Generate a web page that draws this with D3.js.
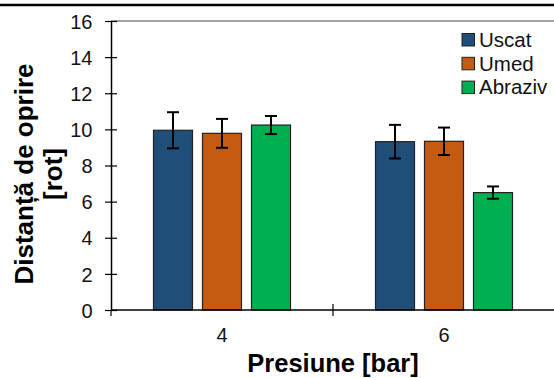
<!DOCTYPE html>
<html>
<head>
<meta charset="utf-8">
<script src="https://cdn.jsdelivr.net/npm/d3@7"></script>
<style>
  body { margin: 0; background: #fff; }
  svg { display: block; font-family: Arial, "Liberation Sans", sans-serif; }
</style>
</head>
<body>
<script>
const categories = ['4', '6'];
const seriesNames = ['Uscat', 'Umed', 'Abraziv'];
const seriesColors = ['#1F4E79', '#C55A11', '#00B050'];
// mean values per series, one per category
const uscat = [9.95, 9.32];
const umed = [9.78, 9.34];
const abraziv = [10.24, 6.5];
// error bar half-widths
const uscatErr = [1.0, 0.93];
const umedErr = [0.8, 0.76];
const abrazivErr = [0.5, 0.34];
const yTicks = [0, 2, 4, 6, 8, 10, 12, 14, 16];

const svgWidth = 554;
const svgHeight = 378;
const margin = { left: 111, right: -1, top: 21, bottom: 68 };
const font = 'Arial, "Liberation Sans", sans-serif';

const svg = d3.select('body').append('svg')
.attr('width', svgWidth)
.attr('height', svgHeight);

// thick line at the top of the figure
svg.append('line')
.attr('x1', 0).attr('x2', svgWidth)
.attr('y1', 5).attr('y2', 5)
.attr('stroke', '#000').attr('stroke-width', 2.5);

const x0 = d3.scaleBand()
.domain(categories)
.range([margin.left, svgWidth - margin.right]);

const x1 = d3.scaleBand()
.domain(seriesNames)
.range([0, 137])
.paddingInner(0.204);

const y = d3.scaleLinear()
.domain([0, 16])
.range([svgHeight - margin.bottom, margin.top]);

const data = [];
const values = [uscat, umed, abraziv];
const errs = [uscatErr, umedErr, abrazivErr];
categories.forEach((c, ci) => {
    seriesNames.forEach((s, si) => {
        data.push({ cat: c, series: s, value: values[si][ci], err: errs[si][ci], color: seriesColors[si] });
    })
})

// plot top border
svg.append('line')
.attr('x1', margin.left).attr('x2', svgWidth)
.attr('y1', y(16)).attr('y2', y(16))
.attr('stroke', '#444').attr('stroke-width', 1);

const groupOffset = (x0.bandwidth() - 137) / 2;

// bars
svg.append('g').selectAll('rect')
.data(data).enter()
.append('rect')
.attr('x', (d) => x0(d.cat) + groupOffset + x1(d.series))
.attr('y', (d) => y(d.value))
.attr('width', x1.bandwidth())
.attr('height', (d) => y(0) - y(d.value))
.attr('fill', (d) => d.color)
.attr('stroke', '#222')
.attr('stroke-width', 1.2);

// error bars
const eb = svg.append('g').attr('stroke', '#000').attr('stroke-width', 2);
data.forEach((d) => {
    const cx = x0(d.cat) + groupOffset + x1(d.series) + x1.bandwidth() / 2;
    eb.append('line').attr('x1', cx).attr('x2', cx)
    .attr('y1', y(d.value + d.err)).attr('y2', y(d.value - d.err));
    [d.value + d.err, d.value - d.err].forEach((v) => {
        eb.append('line').attr('x1', cx - 6).attr('x2', cx + 6)
        .attr('y1', y(v)).attr('y2', y(v));
    })
})

// y axis
const yAxis = svg.append('g')
.attr('transform', `translate(${margin.left},0)`)
.call(d3.axisLeft(y).tickValues(yTicks).tickSizeInner(6).tickSizeOuter(0).tickPadding(12));
yAxis.attr('font-family', font).attr('font-size', 20);
yAxis.select('.domain').attr('stroke', '#000').attr('stroke-width', 1.5);
yAxis.selectAll('.tick line').attr('x2', 6).attr('x1', -6).attr('stroke', '#000').attr('stroke-width', 1.2);
yAxis.selectAll('.tick text').attr('font-size', 20).attr('fill', '#111').attr('x', -18.5).attr('dy', '0.36em');

// x axis
const xAxisG = svg.append('g')
.attr('transform', `translate(0,${y(0)})`);
xAxisG.append('line')
.attr('x1', margin.left).attr('x2', svgWidth)
.attr('stroke', '#000').attr('stroke-width', 1.5);
// tick marks at category boundaries
[margin.left, x0('6')].forEach((px) => {
    xAxisG.append('line')
    .attr('x1', px).attr('x2', px)
    .attr('y1', px === margin.left ? 0 : -6).attr('y2', 6)
    .attr('stroke', '#000').attr('stroke-width', 1.2);
})
xAxisG.selectAll('text.cat')
.data(categories).enter()
.append('text')
.attr('class', 'cat')
.attr('x', (d) => x0(d) + x0.bandwidth() / 2)
.attr('y', 32)
.attr('text-anchor', 'middle')
.attr('font-size', 20)
.attr('fill', '#111')
.text((d) => d);

// axis titles
svg.append('text')
.attr('x', 333).attr('y', 371.5)
.attr('text-anchor', 'middle')
.attr('font-size', 25.5).attr('font-weight', 'bold')
.text('Presiune [bar]');

const yTitle = svg.append('text')
.attr('transform', 'translate(0,174) rotate(-90)')
.attr('text-anchor', 'middle')
.attr('font-size', 26).attr('font-weight', 'bold');
yTitle.append('tspan').attr('x', 0).attr('y', 33).text('Distanță de oprire');
yTitle.append('tspan').attr('x', 0).attr('y', 62).text('[rot]');

// legend
const legend = svg.append('g').attr('transform', 'translate(462,33.5)');
seriesNames.forEach((s, i) => {
    const row = legend.append('g').attr('transform', `translate(0,${i * 23.8})`);
    row.append('rect')
    .attr('width', 12.5).attr('height', 12.5)
    .attr('fill', seriesColors[i])
    .attr('stroke', '#222').attr('stroke-width', 1);
    row.append('text')
    .attr('x', 17).attr('y', 13.2)
    .attr('font-size', 20.5)
    .attr('fill', '#111')
    .text(s);
})
</script>
</body>
</html>
